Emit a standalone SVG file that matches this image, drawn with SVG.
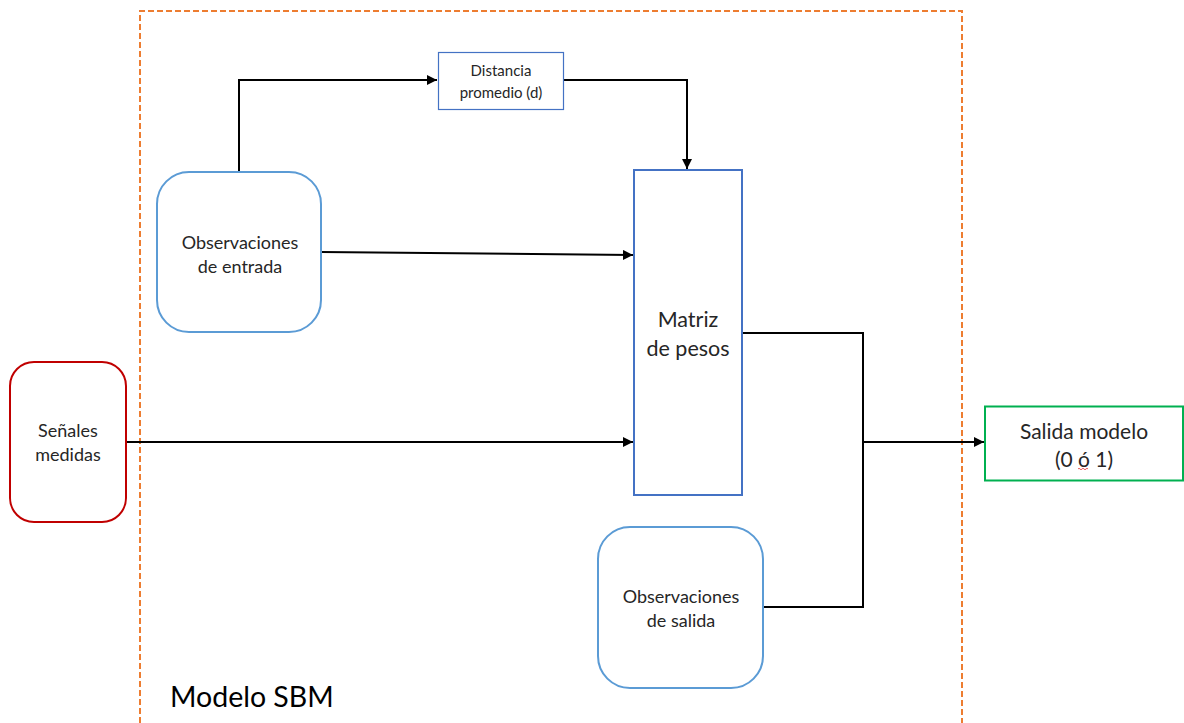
<svg xmlns="http://www.w3.org/2000/svg" width="1184" height="723" viewBox="0 0 1184 723">
  <style>
    .lbl { font-family: Lato, "Open Sans", "Liberation Sans", sans-serif; fill: #262626; text-anchor: middle; }
    .wire { fill: none; stroke: #000; stroke-width: 2; }
  </style>
  <defs>
    <marker id="arrow" viewBox="0 0 10 10" refX="10" refY="5" markerWidth="5" markerHeight="5" orient="auto" markerUnits="strokeWidth">
      <path d="M0,0 L10,5 L0,10 z" fill="#000"/>
    </marker>
  </defs>
  <rect width="1184" height="723" fill="#fff"/>

  <!-- model boundary -->
  <g id="boundary">
    <path d="M140,723 V11 H962 V723" fill="none" stroke="#ED7D31" stroke-width="2" stroke-dasharray="6,3"/>
    <text x="170" y="707" font-family="Lato, 'Open Sans', sans-serif" font-size="28.5" fill="#000">Modelo SBM</text>
  </g>

  <g id="connectors">
    <path class="wire" d="M239,172 V80 H437" marker-end="url(#arrow)"/>
    <path class="wire" d="M563,80 H687 V169" marker-end="url(#arrow)"/>
    <path class="wire" d="M321,252 L633,255" marker-end="url(#arrow)"/>
    <path class="wire" d="M126,442 H633" marker-end="url(#arrow)"/>
    <path class="wire" d="M742,333 H863 V607 H763"/>
    <path class="wire" d="M863,442 H984" marker-end="url(#arrow)"/>
  </g>

  <g id="distancia">
    <rect x="438.5" y="52.5" width="125" height="57" fill="#fff" stroke="#4472C4" stroke-width="1.2"/>
    <text class="lbl" x="501" y="76" font-size="15">Distancia</text>
    <text class="lbl" x="501" y="98" font-size="15">promedio (d)</text>
  </g>

  <g id="obs-entrada">
    <rect x="157" y="172" width="164" height="160" rx="32" fill="#fff" stroke="#5B9BD5" stroke-width="2"/>
    <text class="lbl" x="240" y="249" font-size="18">Observaciones</text>
    <text class="lbl" x="240" y="273" font-size="18">de entrada</text>
  </g>

  <g id="matriz">
    <rect x="634" y="170" width="108" height="325" fill="#fff" stroke="#4472C4" stroke-width="2"/>
    <text class="lbl" x="688" y="327" font-size="21.5">Matriz</text>
    <text class="lbl" x="688" y="356" font-size="21.5">de pesos</text>
  </g>

  <g id="obs-salida">
    <rect x="598" y="527" width="165" height="161" rx="32" fill="#fff" stroke="#5B9BD5" stroke-width="2"/>
    <text class="lbl" x="681" y="603" font-size="18">Observaciones</text>
    <text class="lbl" x="681" y="627" font-size="18">de salida</text>
  </g>

  <g id="senales">
    <rect x="10" y="362" width="116" height="160" rx="24" fill="#fff" stroke="#C00000" stroke-width="2"/>
    <text class="lbl" x="68" y="437" font-size="18">Señales</text>
    <text class="lbl" x="68" y="461" font-size="18">medidas</text>
  </g>

  <g id="salida">
    <rect x="985" y="406.5" width="198" height="74" fill="#fff" stroke="#00B050" stroke-width="2"/>
    <text class="lbl" x="1084" y="439" font-size="21">Salida modelo</text>
    <text class="lbl" x="1084" y="467" font-size="21">(0 ó 1)</text>
    <path d="M1078,469 q1,-1.5 2,0 t2,0 t2,0 t2,0 t2,0" fill="none" stroke="#E03030" stroke-width="0.8"/>
  </g>
</svg>
